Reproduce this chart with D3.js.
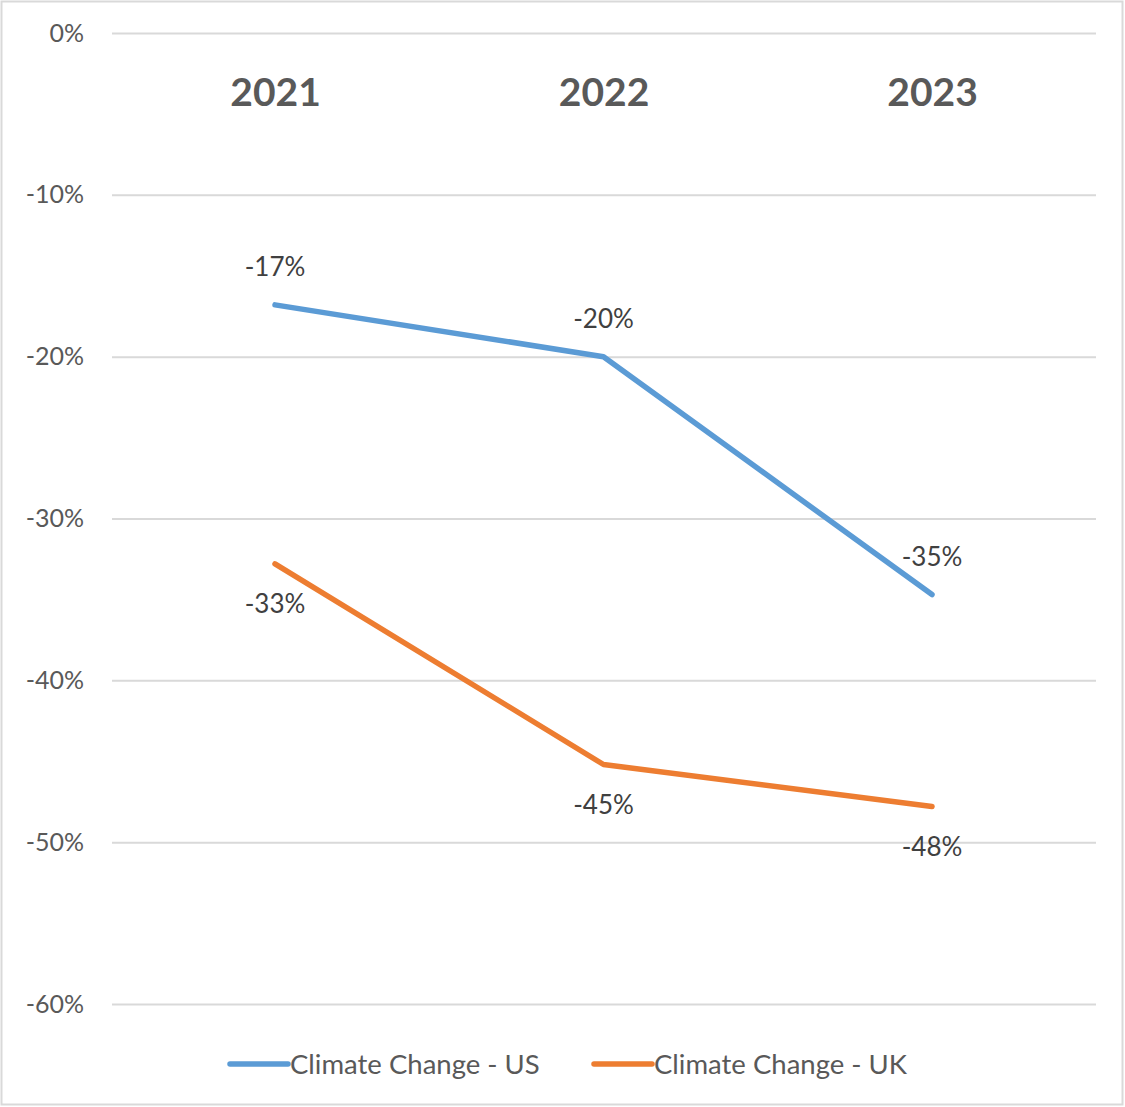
<!DOCTYPE html>
<html><head><meta charset="utf-8">
<script src="https://cdn.jsdelivr.net/npm/d3@7"></script>
<style>body{margin:0;background:#fff}svg{display:block}text{font-family:Lato,"Open Sans",sans-serif}</style>
</head><body>
<svg id="c" width="1125" height="1107"></svg>
<script>
const categories = ["2021","2022","2023"];
const seriesNames = ["Climate Change - US","Climate Change - UK"];
const usValues = [-0.168, -0.200, -0.347];
const ukValues = [-0.328, -0.452, -0.478];
const yTicks = [0,-0.1,-0.2,-0.3,-0.4,-0.5,-0.6];
const colors = ["#5B9BD5","#ED7D31"];

const svg = d3.select("#c");
svg.append("rect").attr("x",1.5).attr("y",1.5).attr("width",1121).attr("height",1103)
  .attr("fill","#fff").attr("stroke","#d9d9d9").attr("stroke-width",2);

const x = d3.scalePoint().domain(categories).range([275,932]);
const y = d3.scaleLinear().domain([0,-0.6]).range([33,1004]);
const fmt = d => d3.format(".0%")(d).replace("\u2212","-");

const yAxis = svg.append("g").attr("transform","translate(112,0)")
  .call(d3.axisLeft(y).tickValues(yTicks).tickFormat(fmt).tickSize(-984).tickPadding(28));
yAxis.select(".domain").remove();
yAxis.selectAll(".tick line").attr("stroke","#d9d9d9").attr("stroke-width",2);
yAxis.selectAll(".tick text").attr("fill","#595959").attr("font-size",25);

const xAxis = svg.append("g").attr("transform","translate(0,92)")
  .call(d3.axisTop(x).tickSize(0).tickPadding(0));
xAxis.select(".domain").remove();
xAxis.selectAll(".tick text").attr("fill","#595959").attr("font-size",39).attr("font-weight","bold")
  .attr("dy","0.35em");

const series = [usValues, ukValues];
const line = d3.line().x((d,i)=>x(categories[i])).y(d=>y(d));
series.forEach((vals,si)=>{
  svg.append("path").datum(vals).attr("d",line).attr("fill","none")
    .attr("stroke",colors[si]).attr("stroke-width",5.5).attr("stroke-linecap","round").attr("stroke-linejoin","round");
});

svg.selectAll(".lblus").data(usValues).enter().append("text")
  .attr("x",(d,i)=>x(categories[i])).attr("y",d=>y(d)-38).attr("dy","0.35em")
  .attr("text-anchor","middle").attr("fill","#404040").attr("font-size",26)
  .text(d=>fmt(d));
svg.selectAll(".lbluk").data(ukValues).enter().append("text")
  .attr("x",(d,i)=>x(categories[i])).attr("y",d=>y(d)+40).attr("dy","0.35em")
  .attr("text-anchor","middle").attr("fill","#404040").attr("font-size",26)
  .text(d=>fmt(d));

const legX = [230, 594];
seriesNames.forEach((n,i)=>{
  svg.append("line").attr("x1",legX[i]).attr("x2",legX[i]+58).attr("y1",1064).attr("y2",1064)
    .attr("stroke",colors[i]).attr("stroke-width",5.5).attr("stroke-linecap","round");
  svg.append("text").attr("x",legX[i]+60).attr("y",1064).attr("dy","0.35em")
    .attr("fill","#595959").attr("font-size",27.5).text(n);
});
</script>
</body></html>
